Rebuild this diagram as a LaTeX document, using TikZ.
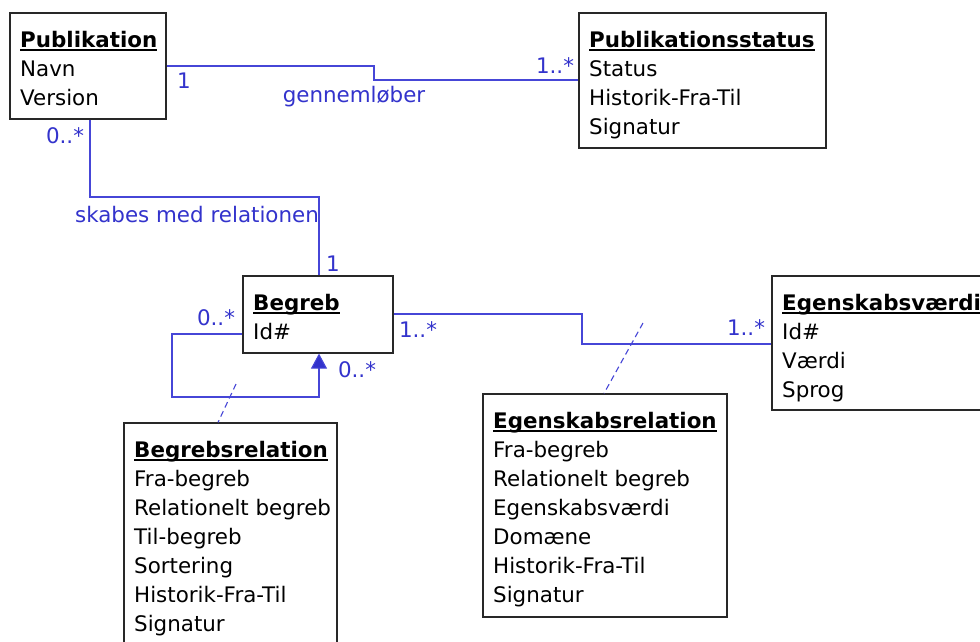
\documentclass[tikz,border=0pt]{standalone}
\usepackage{fontspec}
\setmainfont{DejaVu Sans}
\usetikzlibrary{arrows.meta,fit}
\definecolor{umlblue}{RGB}{51,51,204}
\definecolor{linkblue}{RGB}{70,70,215}
\definecolor{boxline}{RGB}{40,40,40}
\tikzset{
  classbox/.style={draw=boxline, line width=1.2pt, fill=white, inner sep=0pt},
  titletext/.style={anchor=base west, inner sep=0pt, font=\fontsize{21.4}{25}\selectfont\bfseries},
  itemtext/.style={anchor=base west, inner sep=0pt, font=\fontsize{21.4}{25}\selectfont},
  mult/.style={inner sep=0pt, text=umlblue, font=\fontsize{21.4}{25}\selectfont},
  assoc/.style={draw=linkblue, line width=1.1pt},
  linkdash/.style={draw=linkblue, line width=1.1pt, dash pattern=on 6pt off 4pt},
}
% class box: name, left, top, right, bottom, title, attribute list
\newcommand\umlclass[7]{%
  \coordinate (#1-nw) at (#2,#3);
  \coordinate (#1-se) at (#4,#5);
  \node[classbox, fit={(#1-nw) (#1-se)}] (#1) {};
  \node[titletext] (#1-t) at (#2+10,#3+34) {#6};
  \draw[line width=2pt] ([yshift=-3pt]#1-t.base west) -- ([yshift=-3pt]#1-t.base east);
  \foreach \s [count=\i] in {#7}
    \node[itemtext] (#1-\i) at (#2+10,#3+34+29*\i) {\s};
}
\begin{document}
\begin{tikzpicture}[x=1pt, y=-1pt]
\useasboundingbox (0,0) rectangle (980,641);
\fill[white] (0,0) rectangle (980,641);
\clip (0,0) rectangle (980,641);

% bend points of the associations
\coordinate (g1) at (374,66);
\coordinate (g2) at (374,80);
\coordinate (s1) at (90,197);
\coordinate (s2) at (319,197);
\coordinate (e1) at (582,314);
\coordinate (e2) at (582,344);
\coordinate (r1) at (172,334);
\coordinate (r2) at (172,397);
\coordinate (r3) at (319,397);

\umlclass{pub}{10}{13}{166}{119}{Publikation}{Navn,Version}
\umlclass{stat}{579}{13}{826}{148}{Publikationsstatus}{Status,Historik-Fra-Til,Signatur}
\umlclass{beg}{243}{276}{393}{353}{Begreb}{Id\#}
\umlclass{val}{772}{276}{1000}{410}{Egenskabsværdi}{Id\#,Værdi,Sprog}
\umlclass{brel}{124}{423}{337}{700}{Begrebsrelation}{Fra-begreb,Relationelt begreb,Til-begreb,Sortering,Historik-Fra-Til,Signatur}
\umlclass{erel}{483}{394}{727}{617}{Egenskabsrelation}{Fra-begreb,Relationelt begreb,Egenskabsværdi,Domæne,Historik-Fra-Til,Signatur}

% Publikation -- Publikationsstatus
\draw[assoc] (pub.east |- g1) -- (g1) -- (g2) -- (g2 -| stat.west);
% Publikation -- Begreb
\draw[assoc] (pub.south -| s1) -- (s1) -- (s2) -- (s2 |- beg.north);
% Begreb -- Egenskabsværdi
\draw[assoc] (beg.east |- e1) -- (e1) -- (e2) -- (e2 -| val.west);
% Begreb self relation
\draw[assoc, -{Triangle[width=16pt,length=15pt,fill=umlblue]}]
  (beg.west |- r1) -- (r1) -- (r2) -- (r3) -- (r3 |- beg.south);

% association classes
\coordinate (d1) at (236,384);
\coordinate (d2) at (643,323);
\draw[linkdash] (d1) -- (218,423 |- brel.north);
\draw[linkdash] (d2) -- (604,394 |- erel.north);

% multiplicities and role names
\node[mult] (m1) at (184,81) {1};
\node[mult] (m2) at (354,97) {gennemløber};
\node[mult] (m3) at (555,66) {1..*};
\node[mult] (m4) at (65,136) {0..*};
\node[mult] (m5) at (197,215) {skabes med relationen};
\node[mult] (m6) at (333,264) {1};
\node[mult] (m7) at (216,318) {0..*};
\node[mult] (m8) at (418,330) {1..*};
\node[mult] (m9) at (357,370) {0..*};
\node[mult] (m10) at (746,328) {1..*};
\end{tikzpicture}
\end{document}
